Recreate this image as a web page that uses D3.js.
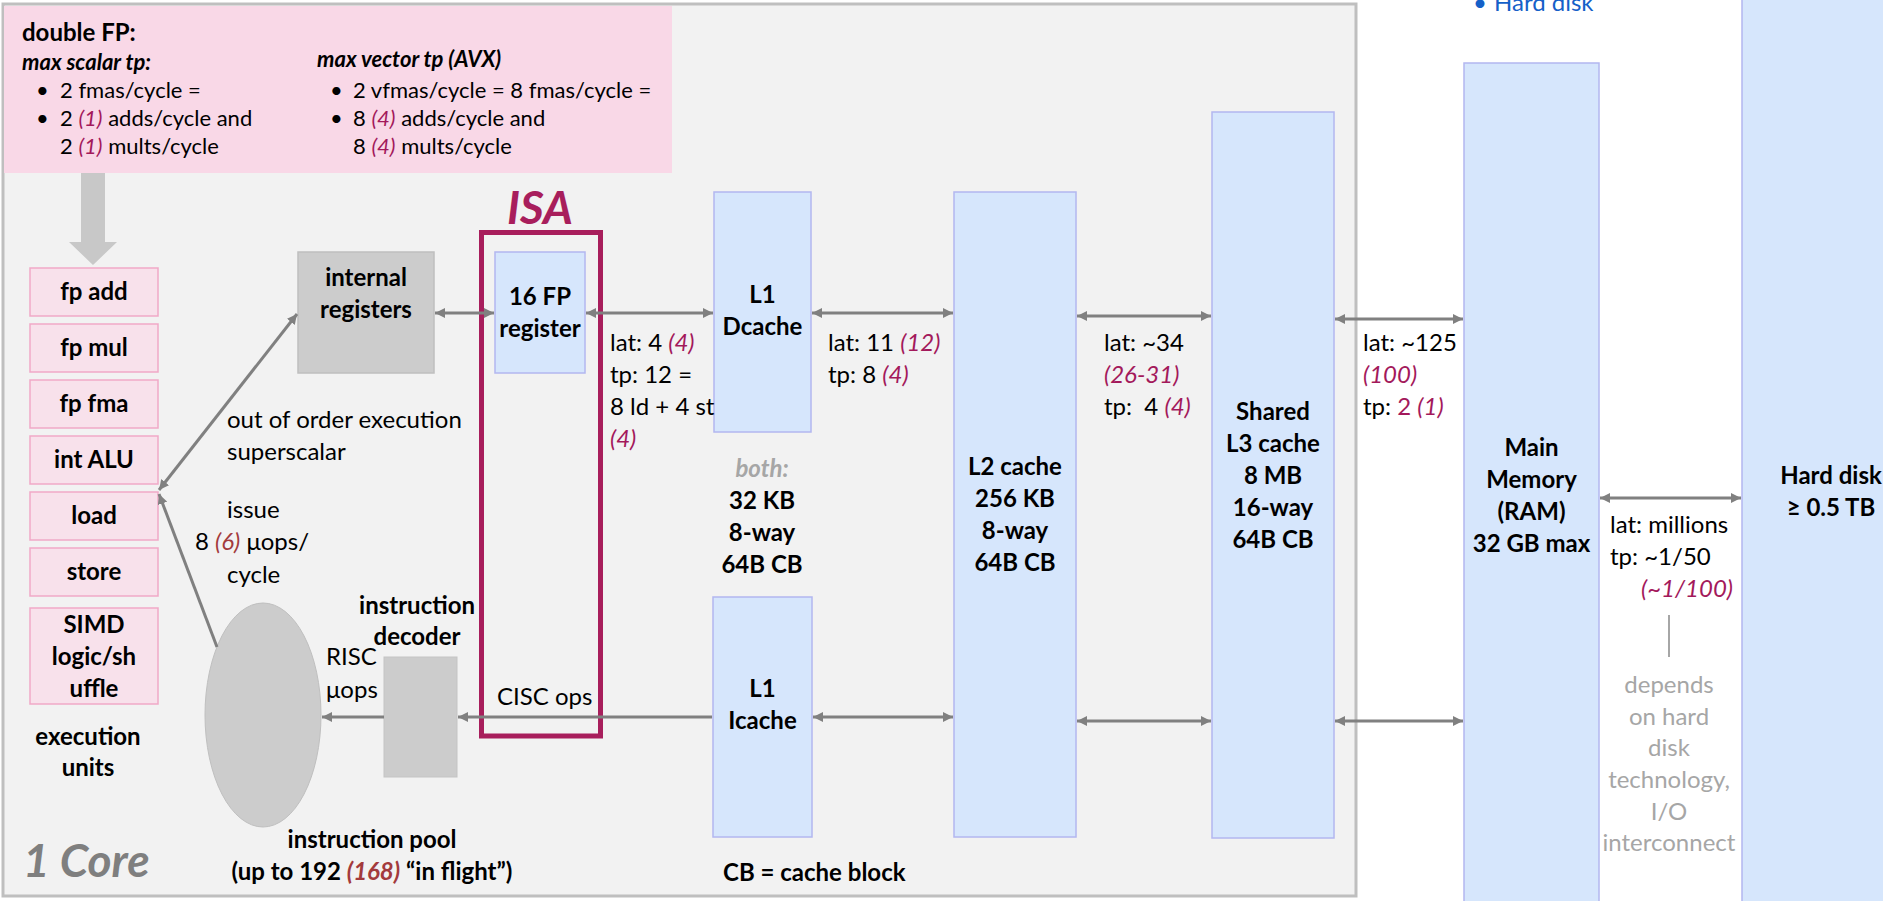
<!DOCTYPE html>
<html>
<head>
<meta charset="utf-8">
<script src="https://cdn.jsdelivr.net/npm/d3@7"></script>
<style>
  body { margin: 0; background: #fff; }
  svg { display: block; }
  text { font-family: Lato, 'Open Sans', sans-serif; white-space: pre; }
</style>
</head>
<body>
<svg id="chart" width="1883" height="901"></svg>
<script>
// ---- diagram content ----
// markup in strings: {..} = other-CPU value (italic, crimson), [..] = crimson, <..> = italic dark red
var execUnits = ['fp add', 'fp mul', 'fp fma', 'int ALU', 'load', 'store'];
var simdUnit = ['SIMD', 'logic/sh', 'uffle'];
var execTitle = ['execution', 'units'];
var scalarTp = ['2 fmas/cycle =', '2 {(1)} adds/cycle and', '2 {(1)} mults/cycle'];
var vectorTp = ['2 vfmas/cycle = 8 fmas/cycle =', '8 {(4)} adds/cycle and', '8 {(4)} mults/cycle'];
var memNames = [
  ['16 FP', 'register'],
  ['L1', 'Dcache'],
  ['L1', 'Icache'],
  ['L2 cache', '256 KB', '8-way', '64B CB'],
  ['Shared', 'L3 cache', '8 MB', '16-way', '64B CB'],
  ['Main', 'Memory', '(RAM)', '32 GB max'],
  ['Hard disk', '≥ 0.5 TB']
];
var l1Shared = ['32 KB', '8-way', '64B CB'];
var linkStats = [
  ['lat: 4 {(4)}', 'tp: 12 =', '8 ld + 4 st', '{(4)}'],
  ['lat: 11 {(12)}', 'tp: 8 {(4)}'],
  ['lat: ~34', '{(26-31)}', 'tp:  4 {(4)}'],
  ['lat: ~125', '{(100)}', 'tp: [2] {(1)}'],
  ['lat: millions', 'tp: ~1/50']
];
var diskTpAlt = '{(~1/100)}';
var diskNote = ['depends', 'on hard', 'disk', 'technology,', 'I/O', 'interconnect'];
var oooNote = ['out of order execution', 'superscalar'];
var issueNote = ['issue', '8 <(6)> μops/', 'cycle'];
var poolNote = ['instruction pool', '(up to 192 <(168)> “in flight”)'];

var ALT = '#a3195b', ALT2 = '#a33a3c', GRAYTXT = '#a6a6a6', ARROW = '#808080';
var BLUE = '#d6e6fc', BLUE_S = '#b3b7f0';

var svg = d3.select('#chart');

// text line with inline markup; y is the visual middle of the line
function addLine(g, str, x, y, o) {
  o = o || {};
  var size = o.size || 24;
  var t = g.append('text')
    .attr('x', x).attr('y', y + size * 0.34)
    .attr('text-anchor', o.anchor || 'start')
    .attr('font-size', size)
    .attr('font-weight', o.bold ? 'bold' : 'normal')
    .attr('font-style', o.italic ? 'italic' : 'normal')
    .attr('fill', o.color || '#000');
  str.split(/(\{[^}]*\}|\[[^\]]*\]|<[^>]*>)/).filter(s => s.length).forEach(function(s) {
    var sp = t.append('tspan');
    if (s[0] == '{') sp.text(s.slice(1, -1)).attr('fill', ALT).attr('font-style', 'italic');
    else if (s[0] == '[') sp.text(s.slice(1, -1)).attr('fill', ALT);
    else if (s[0] == '<') sp.text(s.slice(1, -1)).attr('fill', ALT2).attr('font-style', 'italic');
    else sp.text(s);
  });
  return t;
}
function addBlock(g, lines, x, y, step, o) {
  lines.forEach(function(l, i) { addLine(g, l, x, y + i * step, o); });
}

// arrow markers
var defs = svg.append('defs');
defs.append('marker').attr('id', 'ah')
  .attr('viewBox', '0 0 10 10').attr('refX', 10).attr('refY', 5)
  .attr('markerWidth', 10).attr('markerHeight', 10)
  .attr('markerUnits', 'userSpaceOnUse').attr('orient', 'auto-start-reverse')
  .append('path').attr('d', 'M0,0 L10,5 L0,10 Z').attr('fill', ARROW);

// ---- core background ----
svg.append('rect').attr('x', 3).attr('y', 4).attr('width', 1353).attr('height', 892)
  .attr('fill', '#f2f2f2').attr('stroke', '#bfbfbf').attr('stroke-width', 3);

// top right note (cut off at the top, as on the slide)
addLine(svg, '•', 1473, 3, {color: '#1560c8'});
addLine(svg, 'Hard disk', 1494, 3, {color: '#1560c8'});

// ---- FP throughput box ----
svg.append('rect').attr('x', 4).attr('y', 6).attr('width', 668).attr('height', 167).attr('fill', '#f9d8e7');
addLine(svg, 'double FP:', 22, 33, {bold: true, size: 24});
addLine(svg, 'max scalar tp:', 22, 63, {bold: true, italic: true, size: 22});
addLine(svg, 'max vector tp (AVX)', 317, 60, {bold: true, italic: true, size: 22});
[[scalarTp, 36, 60], [vectorTp, 330, 353]].forEach(function(c) {
  c[0].forEach(function(l, i) {
    if (i < 2) addLine(svg, '•', c[1], 91 + i * 28, {size: 22});
    addLine(svg, l, c[2], 91 + i * 28, {size: 22});
  });
});

// big down arrow
svg.append('path').attr('d', 'M81,173 L105,173 L105,242 L117,242 L93,265 L69,242 L81,242 Z').attr('fill', '#c8c8c8');

// ---- execution units ----
var yUnit = d3.scaleBand().domain(execUnits).range([268, 596]).paddingInner(8 / 56);
var gu = svg.append('g');
gu.selectAll('rect').data(execUnits).enter().append('rect')
  .attr('x', 30).attr('y', d => yUnit(d)).attr('width', 128).attr('height', yUnit.bandwidth())
  .attr('fill', '#f8e1eb').attr('stroke', '#f1a9c7').attr('stroke-width', 1.5);
execUnits.forEach(d => addLine(gu, d, 94, yUnit(d) + yUnit.bandwidth() / 2, {bold: true, anchor: 'middle'}));
gu.append('rect').attr('x', 30).attr('y', 608).attr('width', 128).attr('height', 96)
  .attr('fill', '#f8e1eb').attr('stroke', '#f1a9c7').attr('stroke-width', 1.5);
addBlock(gu, simdUnit, 94, 625, 32, {bold: true, anchor: 'middle'});
addBlock(gu, execTitle, 88, 737, 31, {bold: true, anchor: 'middle'});

// ---- gray units: internal registers, pool, decoder ----
svg.append('rect').attr('x', 298).attr('y', 252).attr('width', 136).attr('height', 121)
  .attr('fill', '#cccccc').attr('stroke', '#bfbfbf').attr('stroke-width', 1.5);
addBlock(svg, ['internal', 'registers'], 366, 278, 32, {bold: true, anchor: 'middle'});
svg.append('ellipse').attr('cx', 263).attr('cy', 715).attr('rx', 58).attr('ry', 112)
  .attr('fill', '#cccccc').attr('stroke', '#bfbfbf').attr('stroke-width', 1);
svg.append('rect').attr('x', 384).attr('y', 657).attr('width', 73).attr('height', 120)
  .attr('fill', '#cccccc').attr('stroke', '#c4c4c4').attr('stroke-width', 1);
addBlock(svg, ['instruction', 'decoder'], 417, 606, 31, {bold: true, anchor: 'middle'});
addBlock(svg, ['RISC', 'μops'], 326, 657, 33, {});
addLine(svg, 'CISC ops', 497, 697, {});
addBlock(svg, oooNote, 227, 420, 32, {});
addLine(svg, issueNote[0], 227, 510, {});
addLine(svg, issueNote[1], 195, 542, {});
addLine(svg, issueNote[2], 227, 575, {});
addBlock(svg, poolNote, 372, 840, 32, {bold: true, anchor: 'middle'});
addLine(svg, '1 Core', 23, 861, {bold: true, italic: true, size: 46, color: '#7f7f7f'});
addLine(svg, 'CB = cache block', 723, 873, {bold: true});

// ---- memory hierarchy boxes ----
// [x0, y0, x1, y1, first label line]
var memGeom = [
  [495, 252, 585, 373, 297],
  [714, 192, 811, 432, 295],
  [713, 597, 812, 837, 689],
  [954, 192, 1076, 837, 467],
  [1212, 112, 1334, 838, 412],
  [1464, 63, 1599, 910, 448],
  [1742, -5, 1920, 910, 476]
];
var gm = svg.append('g');
gm.selectAll('rect').data(memNames).enter().append('rect')
  .attr('x', (d, i) => memGeom[i][0]).attr('y', (d, i) => memGeom[i][1])
  .attr('width', (d, i) => memGeom[i][2] - memGeom[i][0])
  .attr('height', (d, i) => memGeom[i][3] - memGeom[i][1])
  .attr('fill', BLUE).attr('stroke', BLUE_S).attr('stroke-width', 1.5);
memNames.forEach(function(lines, i) {
  var g = memGeom[i];
  var cx = i == 6 ? 1831 : (g[0] + g[2]) / 2;
  addBlock(gm, lines, cx, g[4], 32, {bold: true, anchor: 'middle'});
});
addLine(svg, 'both:', 762, 469, {bold: true, italic: true, color: GRAYTXT, anchor: 'middle'});
addBlock(svg, l1Shared, 762, 501, 32, {bold: true, anchor: 'middle'});

// ISA frame
svg.append('rect').attr('x', 481.5).attr('y', 232.5).attr('width', 119).attr('height', 503.5)
  .attr('fill', 'none').attr('stroke', '#a81e5c').attr('stroke-width', 5);
svg.append('text').attr('x', 540).attr('y', 224).attr('text-anchor', 'middle')
  .attr('font-size', 46).attr('font-weight', 'bold').attr('font-style', 'italic')
  .attr('fill', '#a81e5c').text('ISA');

// ---- link stats ----
var statPos = [[610, 343], [828, 343], [1104, 343], [1363, 343], [1610, 525]];
linkStats.forEach((l, i) => addBlock(svg, l, statPos[i][0], statPos[i][1], 32, {}));
addLine(svg, diskTpAlt, 1733, 589, {anchor: 'end'});
svg.append('line').attr('x1', 1669).attr('x2', 1669).attr('y1', 615).attr('y2', 657)
  .attr('stroke', GRAYTXT).attr('stroke-width', 2);
addBlock(svg, diskNote, 1669, 685, 31.6, {anchor: 'middle', color: GRAYTXT});

// ---- arrows: [x1, y1, x2, y2, both ends] ----
var arrows = [
  [435, 313, 494, 313, 1],
  [586, 313, 713, 313, 1],
  [812, 313, 953, 313, 1],
  [1077, 316, 1211, 316, 1],
  [1335, 319, 1463, 319, 1],
  [1600, 498, 1741, 498, 1],
  [813, 717, 953, 717, 1],
  [1077, 721, 1211, 721, 1],
  [1335, 721, 1463, 721, 1],
  [712, 717, 458, 717, 0],
  [384, 717, 322, 717, 0],
  [159, 490, 297, 314, 1],
  [217, 647, 159, 494, 0]
];
svg.append('g').selectAll('line').data(arrows).enter().append('line')
  .attr('x1', d => d[0]).attr('y1', d => d[1]).attr('x2', d => d[2]).attr('y2', d => d[3])
  .attr('stroke', ARROW).attr('stroke-width', 3)
  .attr('marker-end', 'url(#ah)')
  .attr('marker-start', d => d[4] ? 'url(#ah)' : null);
</script>
</body>
</html>
